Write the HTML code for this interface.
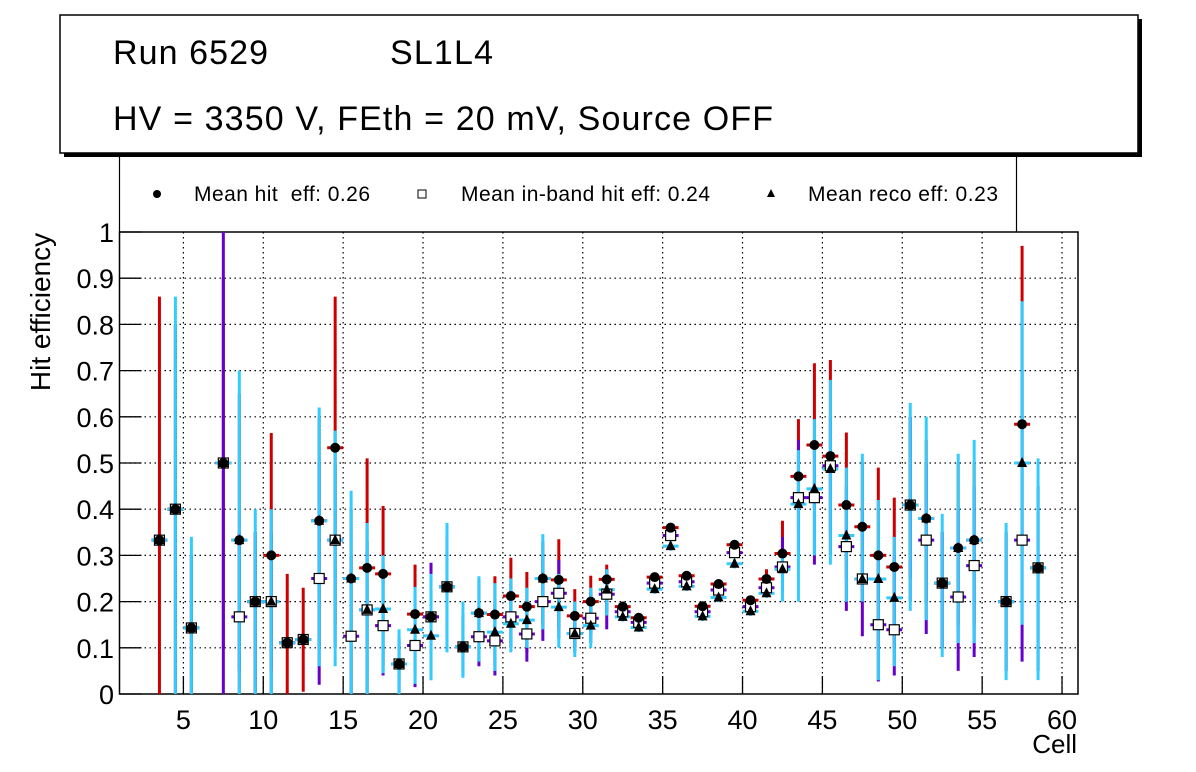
<!DOCTYPE html>
<html><head><meta charset="utf-8"><style>
body{margin:0;background:#fff;}
svg{display:block;font-family:"Liberation Sans",Arial,sans-serif;}
text{white-space:pre;}
</style></head><body>
<svg id="chart" width="1196" height="772" viewBox="0 0 1196 772">
<g>
<rect x="64" y="19" width="1078" height="138" fill="#000"/>
<rect x="60" y="15" width="1078" height="138" fill="#fff" stroke="#000" stroke-width="1.5"/>
<text x="113" y="64" font-size="34" textLength="155">Run 6529</text>
<text x="390" y="64" font-size="34" textLength="103">SL1L4</text>
<text x="113" y="130" font-size="34" textLength="660">HV = 3350 V, FEth = 20 mV, Source OFF</text>
</g>
<g>
<line x1="119.5" y1="157" x2="119.5" y2="232" stroke="#000" stroke-width="1.2"/>
<line x1="1016.5" y1="157" x2="1016.5" y2="232" stroke="#000" stroke-width="1.2"/>
<circle cx="157" cy="194" r="4" fill="#000"/>
<text x="194" y="201" font-size="21" textLength="176" xml:space="preserve">Mean hit  eff: 0.26</text>
<rect x="418" y="190" width="8" height="8" fill="#fff" stroke="#000"/>
<text x="461" y="201" font-size="21" textLength="249">Mean in-band hit eff: 0.24</text>
<polygon points="771,189 775,197 767,197" fill="#000"/>
<text x="808" y="201" font-size="21" textLength="190">Mean reco eff: 0.23</text>
</g>
<g id="grid"></g>
<g id="axes"></g>
<g id="marks"></g>
<text x="50" y="312" font-size="28" text-anchor="middle" transform="rotate(-90 50 312)">Hit efficiency</text>
<text x="1077" y="753" font-size="26" text-anchor="end">Cell</text>
</svg>
<script>
const cells   = [3.5,4.5,5.5,7.5,8.5,9.5,10.5,11.5,12.5,13.5,14.5,15.5,16.5,17.5,18.5,19.5,20.5,21.5,22.5,23.5,24.5,25.5,26.5,27.5,28.5,29.5,30.5,31.5,32.5,33.5,34.5,35.5,36.5,37.5,38.5,39.5,40.5,41.5,42.5,43.5,44.5,45.5,46.5,47.5,48.5,49.5,50.5,51.5,52.5,53.5,54.5,56.5,57.5,58.5];
const hitEff  = [.333,.4,.143,.5,.333,.2,.3,.111,.118,.375,.533,.25,.273,.26,.065,.173,.167,.232,.102,.175,.172,.212,.189,.25,.247,.169,.2,.248,.189,.165,.253,.36,.256,.19,.238,.323,.203,.249,.304,.471,.539,.515,.409,.362,.3,.275,.409,.38,.24,.316,.333,.2,.584,.273];
const inbEff  = [.333,.4,.143,.5,.167,.2,.2,.111,.118,.25,.333,.125,.182,.148,.065,.105,.167,.232,.102,.124,.115,.167,.13,.2,.218,.131,.164,.216,.178,.155,.24,.343,.243,.178,.225,.306,.189,.23,.275,.425,.425,.494,.319,.249,.15,.139,.409,.333,.24,.21,.278,.2,.333,.273];
const recoEff = [.333,.4,.143,.5,.333,.2,.2,.111,.118,.375,.333,.25,.182,.184,.065,.139,.126,.232,.102,.175,.134,.152,.16,.25,.188,.131,.148,.226,.167,.144,.227,.32,.233,.168,.209,.282,.179,.218,.27,.411,.444,.487,.343,.249,.249,.208,.409,.38,.24,.316,.333,.2,.5,.273];
const hitLo   = [0,0,0,.1,0,0,.05,0,.005,.1,.15,0,0,.06,0,.04,.04,.1,.04,.07,.06,.1,.09,.15,.14,.1,.13,.18,.18,.155,.243,.35,.246,.18,.228,.313,.193,.239,.25,.35,.4,.35,.25,.2,.1,.1,.25,.2,.1,.15,.15,.05,.3,.05];
const hitHi   = [.86,.8,.3,.9,.65,.35,.565,.26,.23,.6,.86,.4,.51,.407,.12,.28,.25,.35,.17,.25,.255,.295,.264,.33,.335,.227,.256,.28,.2,.175,.263,.37,.266,.2,.248,.333,.213,.27,.375,.595,.716,.723,.566,.5,.49,.425,.6,.55,.35,.5,.5,.35,.97,.45];
const inbLo   = [.333,0,0,0,.05,0,0,.111,.118,.02,.1,0,0,.04,0,.015,.03,.1,.04,.06,.04,.1,.07,.115,.12,.09,.11,.14,.168,.145,.23,.333,.233,.168,.215,.296,.179,.22,.22,.3,.28,.3,.18,.125,.027,.04,.2,.13,.1,.05,.08,.05,.07,.05];
const inbHi   = [.333,.8,.3,1,.35,.35,.35,.111,.118,.5,.5,.3,.33,.28,.12,.2,.284,.35,.17,.2,.2,.24,.2,.3,.29,.18,.22,.27,.188,.165,.25,.353,.253,.188,.235,.316,.199,.24,.34,.55,.55,.6,.45,.4,.3,.3,.6,.5,.35,.4,.45,.35,.7,.45];
const recoLo  = [.333,0,0,.5,0,0,0,.111,.118,.06,.06,0,0,.045,0,.022,.03,.09,.035,.07,.05,.09,.1,.14,.1,.08,.1,.17,.157,.134,.217,.31,.223,.158,.199,.272,.169,.208,.2,.2,.3,.28,.2,.2,.03,.06,.18,.16,.08,.11,.11,.03,.15,.03];
const recoHi  = [.333,.86,.34,.5,.7,.4,.4,.111,.118,.62,.57,.44,.37,.3,.14,.232,.26,.37,.2,.255,.24,.25,.23,.346,.26,.2,.23,.27,.177,.154,.237,.33,.243,.178,.219,.292,.189,.228,.3,.528,.595,.68,.49,.52,.42,.34,.63,.6,.39,.52,.55,.37,.85,.51];
const xTicks = [5,10,15,20,25,30,35,40,45,50,55,60];
const yTicks = [0,0.1,0.2,0.3,0.4,0.5,0.6,0.7,0.8,0.9,1];
const yTickLabels = ["0","0.1","0.2","0.3","0.4","0.5","0.6","0.7","0.8","0.9","1"];

const L=119.5,R=1078,T=232,B=694;
const xMin=1,xMax=61;
const X=v=>L+(v-xMin)/(xMax-xMin)*(R-L);
const Y=v=>B-v*(B-T);
const NS='http://www.w3.org/2000/svg';
function mk(parent,tag,attrs){const e=document.createElementNS(NS,tag);for(const k in attrs)e.setAttribute(k,attrs[k]);parent.appendChild(e);return e;}
const grid=document.getElementById('grid'),axes=document.getElementById('axes'),marks=document.getElementById('marks');

xTicks.forEach((t,i)=>{
  const g=mk(grid,'line',{x1:X(t),x2:X(t),y1:T,y2:B,stroke:'#000','stroke-width':1.2,'stroke-dasharray':'1.5 3.5'});
  
  
  const tk=mk(axes,'line',{x1:X(t),x2:X(t),y1:B,y2:B-18,stroke:'#000','stroke-width':1.3});
  
  
  const tx=mk(axes,'text',{x:X(t),y:729,'font-size':27,'text-anchor':'middle'});
  tx.textContent=String(t);
  
  
});
yTicks.forEach((t,i)=>{
  if(t>0&&t<1){
    const g=mk(grid,'line',{x1:L,x2:R,y1:Y(t),y2:Y(t),stroke:'#000','stroke-width':1.2,'stroke-dasharray':'1.5 3.5'});
    
    
  }
  const tk=mk(axes,'line',{x1:L,x2:L+22,y1:Y(t),y2:Y(t),stroke:'#000','stroke-width':1.3});
  
  
  const tx=mk(axes,'text',{x:114,y:Y(t)+10,'font-size':27,'text-anchor':'end'});
  tx.textContent=yTickLabels[i];
  
  
});
const fr=mk(axes,'rect',{x:L,y:T,width:R-L,height:B-T,fill:'none',stroke:'#000','stroke-width':1.5});



const half=(X(2)-X(1))/2;
function errBars(lo,hi,val,color,name){
  cells.forEach((c,i)=>{
    const g=mk(marks,'g',{});
    
    
    mk(g,'line',{x1:X(c),x2:X(c),y1:Y(lo[i]),y2:Y(hi[i]),stroke:color,'stroke-width':3});
    mk(g,'line',{x1:X(c)-half,x2:X(c)+half,y1:Y(val[i]),y2:Y(val[i]),stroke:color,'stroke-width':3});
  });
}
errBars(hitLo,hitHi,hitEff,'#cc0000','hit-error-bar');
errBars(inbLo,inbHi,inbEff,'#6600cc','inband-error-bar');
errBars(recoLo,recoHi,recoEff,'#33ccff','reco-error-bar');

cells.forEach((c,i)=>{
  const s=mk(marks,'rect',{x:X(c)-5,y:Y(inbEff[i])-5,width:10,height:10,fill:'#fff',stroke:'#000','stroke-width':1.2});
  
  
});
cells.forEach((c,i)=>{
  const p=mk(marks,'circle',{cx:X(c),cy:Y(hitEff[i]),r:5,fill:'#000'});
  
  
});
cells.forEach((c,i)=>{
  const x=X(c),y=Y(recoEff[i]);
  const t=mk(marks,'polygon',{points:`${x},${y-6} ${x+5},${y+4} ${x-5},${y+4}`,fill:'#000'});
  
  
});
</script>
</body></html>
